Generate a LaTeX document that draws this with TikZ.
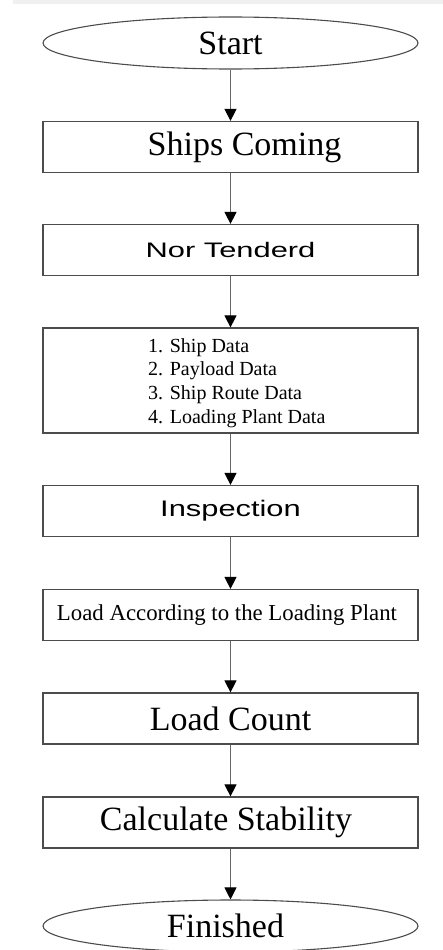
\documentclass[tikz,border=0pt]{standalone}
\usepackage{graphicx}
\usepackage{fontspec}
\setmainfont{Liberation Serif}
\newfontfamily\plainsans{Liberation Sans}
\usetikzlibrary{shapes.geometric,arrows.meta}

% sans labels set wide by horizontal stretching
\newcommand{\widelabel}[3]{\scalebox{#2}[1]{\plainsans\fontsize{#1}{#1}\selectfont #3}}

\tikzset{
  stepbox/.style={draw=black!70, line width=1.2pt, rectangle,
    minimum width=375pt, minimum height=51pt, inner sep=0pt},
  termbox/.style={draw=black!70, line width=1.1pt, ellipse,
    minimum width=375pt, minimum height=52pt, inner sep=0pt},
  flow/.style={draw=black!60, line width=1pt,
    -{Triangle[length=12pt,width=12pt,color=black]}},
  bigserif/.style={font=\fontsize{34}{38}\selectfont},
  midserif/.style={font=\fontsize{22.8}{26}\selectfont},
  listserif/.style={font=\fontsize{20}{23.8}\selectfont}
}

\begin{document}
\begin{tikzpicture}[x=1pt,y=-1pt]
  \useasboundingbox (0,0) rectangle (443,950);
  \clip (0,0) rectangle (443,950);
  % faint band along the top edge
  \fill[black!6] (13,0) rectangle (443,4);

  % terminals and steps
  \node[termbox, bigserif] (start) at (230.5,43) {\raisebox{-2pt}{Start}};
  \node[stepbox, bigserif] (ships) at (230.5,147) {\hspace*{28pt}Ships Coming};
  \node[stepbox] (nor) at (230.5,250) {\widelabel{21}{1.47}{Nor Tenderd}};
  \node[stepbox, minimum height=105pt] (data) at (230.5,380.5) {};
  \node[listserif, align=left, anchor=west, inner sep=0pt] (datatext) at (148,383)
    {1. Ship Data\\2. Payload Data\\3. Ship Route Data\\4. Loading Plant Data};
  \node[stepbox] (insp) at (230.5,511) {\widelabel{22.5}{1.37}{Inspection}};
  \node[stepbox, midserif] (loadacc) at (230.5,615) {\hspace*{-7pt}Load According to the Loading Plant};
  \node[stepbox, bigserif] (count) at (230.5,718.5) {Load Count};
  \node[stepbox, bigserif] (calc) at (230.5,822.5) {\hspace*{-9pt}Calculate Stability};
  \node[termbox, bigserif] (finish) at (230.5,926) {\hspace*{-10pt}Finished};

  % connectors
  \draw[flow] (start) -- (ships);
  \draw[flow] (ships) -- (nor);
  \draw[flow] (nor) -- (data);
  \draw[flow] (data) -- (insp);
  \draw[flow] (insp) -- (loadacc);
  \draw[flow] (loadacc) -- (count);
  \draw[flow] (count) -- (calc);
  \draw[flow] (calc) -- (finish);
\end{tikzpicture}
\end{document}
